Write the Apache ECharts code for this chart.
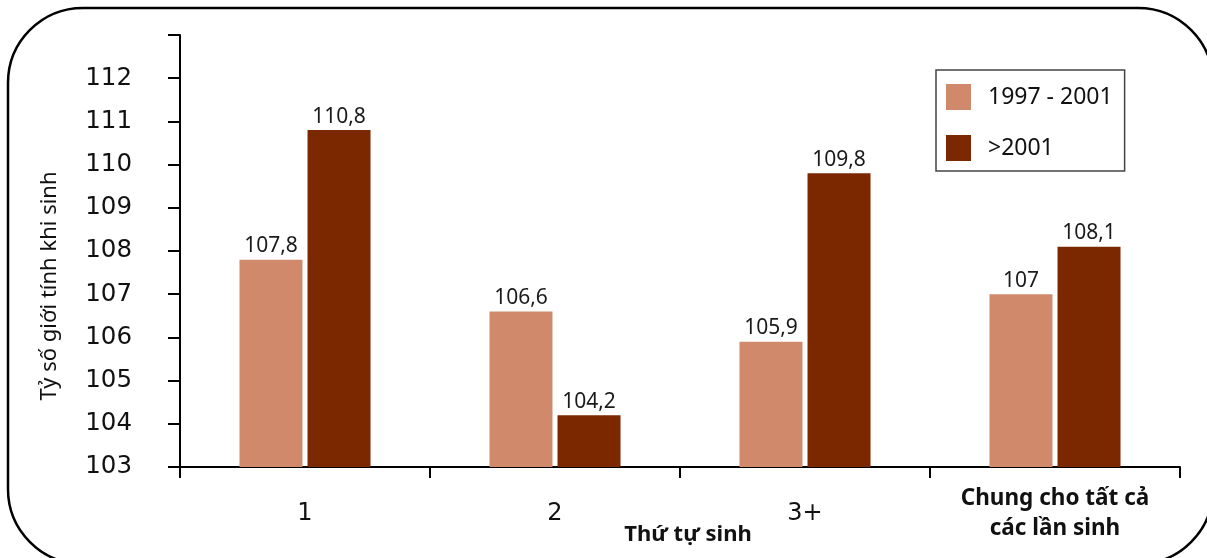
<!DOCTYPE html>
<html>
<head>
<meta charset="utf-8">
<script src="https://cdn.jsdelivr.net/npm/echarts@6/dist/echarts.min.js"></script>
<style>
html,body{margin:0;padding:0;background:#fff;}
#chart{width:1207px;height:558px;}
</style>
</head>
<body>
<div id="chart"></div>
<script>
const categories = ['1', '2', '3+', 'Chung cho tất cả\ncác lần sinh'];
const seriesNames = ['1997 - 2001', '>2001'];
const values1997 = [107.8, 106.6, 105.9, 107];
const values2001 = [110.8, 104.2, 109.8, 108.1];
const yMin = 103, yMax = 113, yStep = 1;
const yTitle = 'Tỷ số giới tính khi sinh';
const xTitle = 'Thứ tự sinh';

const chart = echarts.init(document.getElementById('chart'), null, {renderer: 'canvas'});
const fmtLabel = p => String(p.value).replace('.', ',');
const labelStyle = {
  show: true, position: 'top', distance: 3,
  fontFamily: 'Noto Sans', fontSize: 21, color: '#1a1a1a',
  formatter: fmtLabel
};
chart.setOption({
  animation: false,
  backgroundColor: '#fff',
  grid: {left: 180, right: 27, top: 35, bottom: 91, containLabel: false},
  legend: {
    orient: 'vertical', left: 936, top: 70,
    width: 184,
    padding: [14, 12, 10, 10],
    borderColor: '#444', borderWidth: 1.5, borderRadius: 0,
    itemWidth: 25, itemHeight: 26, itemGap: 25,
    icon: 'rect',
    textStyle: {fontFamily: 'Noto Sans', fontSize: 23, color: '#111', padding: [0, 0, 0, 12]},
    data: seriesNames
  },
  xAxis: {
    type: 'category', data: categories,
    axisLine: {lineStyle: {color: '#000', width: 2}},
    axisTick: {show: true, interval: 0, length: 11, lineStyle: {color: '#000', width: 2}},
    axisLabel: {
      interval: 0,
      margin: 47, verticalAlign: 'middle',
      fontFamily: 'DejaVu Sans', fontSize: 24, color: '#111',
      formatter: function (v) {
        if (v.indexOf('\n') >= 0) return '{b|' + v.split('\n').join('}\n{b|') + '}';
        return v;
      },
      rich: {b: {fontFamily: 'Noto Sans', fontWeight: 'bold', fontSize: 22.5, lineHeight: 30, color: '#111'}}
    }
  },
  yAxis: {
    type: 'value', min: yMin, max: yMax, interval: yStep,
    splitLine: {show: false},
    axisLine: {show: true, lineStyle: {color: '#000', width: 2}},
    axisTick: {show: true, length: 12, lineStyle: {color: '#000', width: 2}},
    axisLabel: {
      margin: 48, fontFamily: 'DejaVu Sans', fontSize: 24.5, color: '#111',
      padding: [5, 0, 0, 0],
      formatter: v => (v === yMax ? '' : String(v))
    }
  },
  series: [
    {name: seriesNames[0], type: 'bar', data: values1997, barWidth: 63, barGap: '8%',
     itemStyle: {color: '#D0896B'}, label: labelStyle},
    {name: seriesNames[1], type: 'bar', data: values2001, barWidth: 63, barGap: '8%',
     itemStyle: {color: '#7B2800'}, label: labelStyle}
  ],
  graphic: [
    {type: 'rect', z: -1, silent: true,
     shape: {x: 8, y: 8, width: 1205, height: 556, r: 75},
     style: {fill: 'none', stroke: '#000', lineWidth: 2.5}},
    {type: 'text', x: 50, y: 286, rotation: Math.PI / 2,
     style: {text: yTitle, fontFamily: 'Noto Sans', fontSize: 22, fill: '#111',
             textAlign: 'center', textVerticalAlign: 'middle'}},
    {type: 'text', x: 688, y: 535,
     style: {text: xTitle, fontFamily: 'Noto Sans', fontWeight: 'bold', fontSize: 22, fill: '#111',
             textAlign: 'center', textVerticalAlign: 'middle'}}
  ]
});
</script>
</body>
</html>
